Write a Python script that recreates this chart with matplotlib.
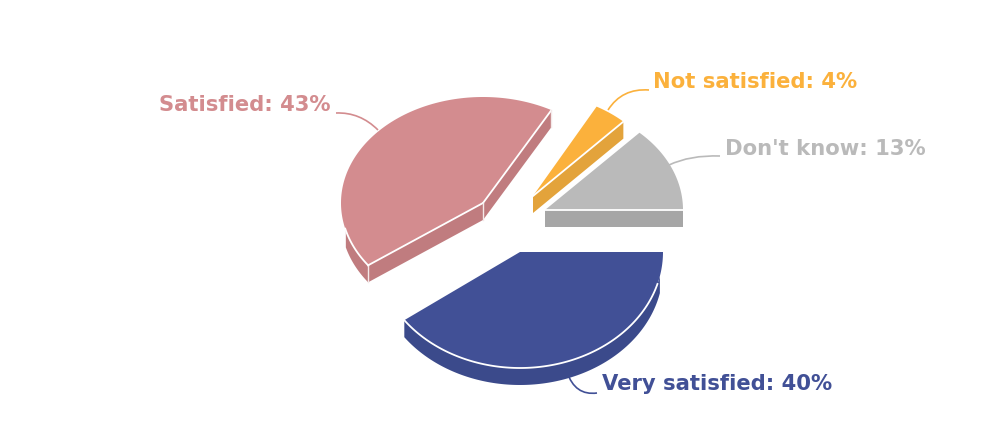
import numpy as np
import matplotlib
matplotlib.use("Agg")
import matplotlib.pyplot as plt
from matplotlib.path import Path
from matplotlib.patches import PathPatch

categories = ["Very satisfied", "Satisfied", "Not satisfied", "Don't know"]
values = [40, 43, 4, 13]
top_colors = ["#415096", "#d38c8f", "#fbb13c", "#bababa"]
wall_colors = ["#3b4a8b", "#c07c7f", "#e3a33b", "#a6a6a6"]

# slice layout in pixels: centre x, centre y, radius x, radius y
geometry = [(520, 252, 143, 116), (483, 203, 142, 106),
            (533, 196, 132, 102), (545, 210, 138, 106)]
depth = 17
# angular ranges of the outer wall and of the white rim highlight
wall_spans = [(12, 144), (144, 165), None, None]
rim_spans = [(16, 144), (144, 166), None, None]
radial_faces = [[], ["start", "end"], ["end"], ["end"]]
vertical_edges = [False, True, False, False]
label_pos = [(602, 384), (159, 105), (653, 82), (725, 149)]
connectors = [((597, 393), (575, 396), (567, 372)),
              ((336, 113), (360, 112), (378, 130)),
              ((649, 90), (622, 88), (608, 110)),
              ((720, 156), (690, 155), (669, 165))]

fig = plt.figure(figsize=(9.9, 4.38), dpi=100)
ax = fig.add_axes([0, 0, 1, 1])
ax.set_xlim(0, 990)
ax.set_ylim(438, 0)
ax.axis("off")

edges = np.cumsum([0] + values) * 3.6


def rim(g, a0, a1, dy=0):
    t = np.radians(np.linspace(a0, a1, 120))
    return g[0] + g[2] * np.cos(t), g[1] + g[3] * np.sin(t) + dy


for i, g in enumerate(geometry):
    a0, a1 = edges[i], edges[i + 1]
    # outer wall (only the part facing the viewer)
    if wall_spans[i]:
        xt, yt = rim(g, *wall_spans[i])
        xb, yb = rim(g, *wall_spans[i], depth)
        ax.fill(np.r_[xt, xb[::-1]], np.r_[yt, yb[::-1]],
                color=wall_colors[i], lw=0, zorder=2)
    # radial faces
    for which in radial_faces[i]:
        a = a0 if which == "start" else a1
        xr, yr = rim(g, a, a)
        xr, yr = xr[0], yr[0]
        ax.fill([g[0], xr, xr, g[0]], [g[1], yr, yr + depth, g[1] + depth],
                color=wall_colors[i], lw=0, zorder=2)
        ax.plot([g[0], xr], [g[1], yr], color="white", lw=1.3, zorder=4)
        if vertical_edges[i]:
            ax.plot([xr, xr], [yr, yr + depth], color="#f4e9e9", lw=1.0, zorder=4)
    if vertical_edges[i]:
        ax.plot([g[0], g[0]], [g[1], g[1] + depth], color="#f4e9e9", lw=1.0, zorder=4)
    # top face
    xt, yt = rim(g, a0, a1)
    ax.fill(np.r_[g[0], xt], np.r_[g[1], yt], color=top_colors[i], lw=0, zorder=3)
    # white rim
    if rim_spans[i]:
        xr, yr = rim(g, *rim_spans[i])
        ax.plot(xr, yr, color="white", lw=1.3, zorder=4)
    # connector and label
    path = Path(connectors[i], [Path.MOVETO, Path.CURVE3, Path.CURVE3])
    ax.add_patch(PathPatch(path, fc="none", ec=top_colors[i], lw=1.2, zorder=1))
    ax.text(label_pos[i][0], label_pos[i][1], f"{categories[i]}: {values[i]}%",
            color=top_colors[i], fontsize=15.2, fontweight="bold",
            family="DejaVu Sans", ha="left", va="center", zorder=5)

fig.savefig("out.png", dpi=100, facecolor="white")
